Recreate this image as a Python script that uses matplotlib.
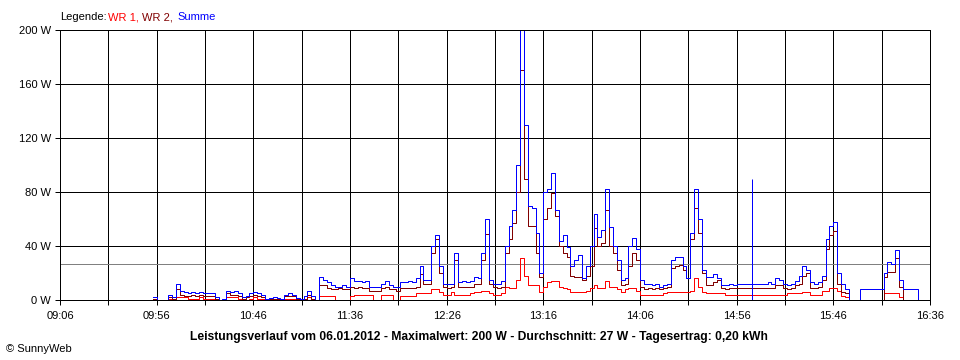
import numpy as np
import matplotlib
matplotlib.use("Agg")
import matplotlib.pyplot as plt

plt.rcParams['font.family'] = ['Liberation Sans', 'DejaVu Sans']

# Messwerte alle 2 Minuten ab 09:54 (Minuten seit Mitternacht), Werte in W
start_min = 594
step_min = 2

wr1 = [0, 0, 0, 0, 1, 0, 2, 2, 2, 1,
       1, 1, 2, 1, 1, 1, 0, 0, 0, 2,
       2, 2, 1, 0, 0, 1, 2, 1, 1, 0,
       0, 0, 0, 0, 1, 1, 1, 0, 0, 0,
       2, 1, 0, 3, 3, 3, 3, 0, 0, 0,
       0, 3, 4, 4, 4, 4, 4, 0, 0, 4,
       4, 4, 0, 0, 3, 3, 3, 3, 5, 5,
       5, 5, 8, 8, 6, 4, 4, 6, 4, 4,
       4, 4, 5, 6, 6, 7, 7, 5, 4, 4,
       5, 10, 9, 9, 15, 31, 18, 11, 11, 11,
       6, 10, 13, 14, 14, 10, 9, 8, 6, 6,
       6, 6, 7, 9, 11, 9, 9, 14, 10, 10,
       8, 6, 8, 9, 9, 7, 4, 4, 4, 4,
       4, 4, 5, 6, 6, 6, 6, 6, 6, 7,
       16, 10, 6, 5, 5, 5, 5, 5, 4, 4,
       4, 4, 4, 4, 4, 4, 4, 4, 4, 4,
       4, 4, 4, 4, 5, 5, 5, 5, 6, 6,
       4, 4, 4, 7, 7, 9, 9, 7, 3, 2,
       0, 0, 0, 0, 0, 0, 0, 0, 0, 5,
       5, 5, 5, 2.5, 0, 0, 0, 0, 0]

wr2 = [1, 0, 0, 0, 2, 1, 8, 4, 3, 3,
       4, 3, 4, 3, 3, 3, 1, 0, 0, 5,
       4, 4, 3, 1, 2, 3, 4, 3, 2, 0,
       1, 1, 1, 0, 3, 3, 3, 1, 0.5, 1,
       4, 1, 0, 11, 11, 9, 8, 8, 9, 8,
       8, 10, 9, 10, 9, 9, 7, 7, 7, 9,
       10, 8, 8, 7, 9, 9, 9, 9, 10, 19,
       12, 12, 35, 45, 20, 10, 9, 10, 30, 10,
       10, 10, 10, 12, 12, 30, 49, 12, 10, 9,
       10, 35, 45, 57, 80, 170, 90, 55, 55, 35,
       17, 60, 68, 79, 62, 40, 35, 32, 18, 17,
       17, 15, 18, 25, 53, 40, 42, 67, 40, 35,
       22, 11, 12, 25, 35, 30, 10, 8, 9, 8,
       9, 8, 9, 10, 24, 25, 26, 22, 16, 45,
       68, 50, 20, 11, 11, 13, 15, 9, 8, 9,
       9, 9, 9, 9, 9, 9, 9, 9, 9, 9,
       9, 11, 11, 9, 8, 9, 11, 12, 18, 20,
       9, 9, 10, 15, 38, 48, 51, 12, 6, 5,
       0, 0, 0, 0, 0, 0, 0, 0, 0, 17,
       21, 21, 31, 10, 0, 0, 0, 0, 0]

summe = [2, 0, 0, 0, 4, 2, 12, 7, 6, 5,
         6, 5, 6, 5, 5.5, 5, 2, 0, 1, 7,
         6, 6.5, 5, 2, 3, 5, 6, 5, 4, 1,
         1.5, 2, 1.5, 1, 4, 5, 4, 1.5, 1, 3,
         7, 3, 0, 17, 15, 13, 11, 10, 10, 11,
         10, 16, 14, 14, 13, 14, 10, 10, 10, 12,
         14, 11, 10, 10, 13, 13, 14, 13, 16, 25,
         15, 15, 40, 48, 25, 12, 12, 12, 35, 13,
         14, 13, 14, 17, 16, 35, 60, 15, 12, 12,
         14, 40, 55, 67, 100, 200, 130, 70, 68, 50,
         20, 80, 82, 94, 67, 44, 48, 39, 25, 30,
         33, 16, 25, 40, 64, 47, 52, 82, 54, 40,
         30, 15, 16, 40, 46, 38, 15, 12, 12, 11,
         12, 10, 11, 12, 30, 32, 32, 25, 16, 50,
         82, 60, 22, 17, 17, 19, 16, 11, 11, 12,
         11, 12, 12, 12, 12, 12, 12, 12, 12, 13,
         12, 16, 15, 12, 11, 12, 14, 18, 25, 22,
         13, 12, 13, 18, 45, 55, 58, 20, 12, 8,
         0, 0, 0, 8, 8, 8, 8, 8, 8, 20,
         28, 27, 37, 15, 8, 8, 8, 8, 0]

# einzelner Ausreisser der Summe gegen 15:00
spike_min = [903.8]
spike_w = [90]

avg_w = 27
title = ("Leistungsverlauf vom 06.01.2012 - Maximalwert: 200 W - "
         "Durchschnitt: 27 W - Tagesertrag: 0,20 kWh")

c_wr1 = '#ff0000'
c_wr2 = '#800000'
c_sum = '#0000ff'

t = start_min + step_min * np.arange(len(summe))

fig = plt.figure(figsize=(9.6, 3.6), dpi=100)
ax = fig.add_axes([60 / 960, 60 / 360, 870 / 960, 270 / 360])

lw = 0.72  # etwa 1 Pixel
ax.axhline(avg_w, color='#808080', lw=lw, zorder=1.8)
ax.step(t, wr1, where='post', color=c_wr1, lw=lw)
ax.step(t, wr2, where='post', color=c_wr2, lw=lw)
ax.step(t, summe, where='post', color=c_sum, lw=lw)
ax.vlines(spike_min, 0, spike_w, color=c_sum, lw=lw)

ax.set_xlim(546, 996)
ax.set_ylim(0, 200)
ax.set_xticks(np.arange(546, 997, 50))
ax.set_xticks(np.arange(571, 997, 50), minor=True)
ax.set_xticklabels([f"{m // 60:02d}:{m % 60:02d}" for m in range(546, 997, 50)])
ax.set_yticks(np.arange(0, 201, 40))
ax.set_yticklabels([f"{v} W" for v in range(0, 201, 40)])
ax.grid(True, which='both', color='black', lw=lw)
ax.tick_params(which='both', direction='out', length=3.6, width=lw,
               colors='black', labelsize=8)
ax.tick_params(axis='x', pad=4)
ax.tick_params(axis='y', pad=3)
for s in ax.spines.values():
    s.set_linewidth(lw)
    s.set_color('black')

# Legende als farbiger Text
fig.text(60 / 960, 1 - 17 / 360, "Legende:", fontsize=8, va='center', color='black')
fig.text(108 / 960, 1 - 17 / 360, "WR 1,", fontsize=8, va='center', color=c_wr1)
fig.text(142 / 960, 1 - 17 / 360, "WR 2,", fontsize=8, va='center', color=c_wr2)
fig.text(177 / 960, 1 - 17 / 360, "Summe", fontsize=8, va='center', color=c_sum)

fig.text(479 / 960, 1 - 337 / 360, title, fontsize=8.7, fontweight='bold',
         ha='center', va='center')
fig.text(6 / 960, 1 - 349 / 360, "\u00a9 SunnyWeb", fontsize=8, va='center')

fig.savefig("out.png", dpi=100, facecolor='white')
